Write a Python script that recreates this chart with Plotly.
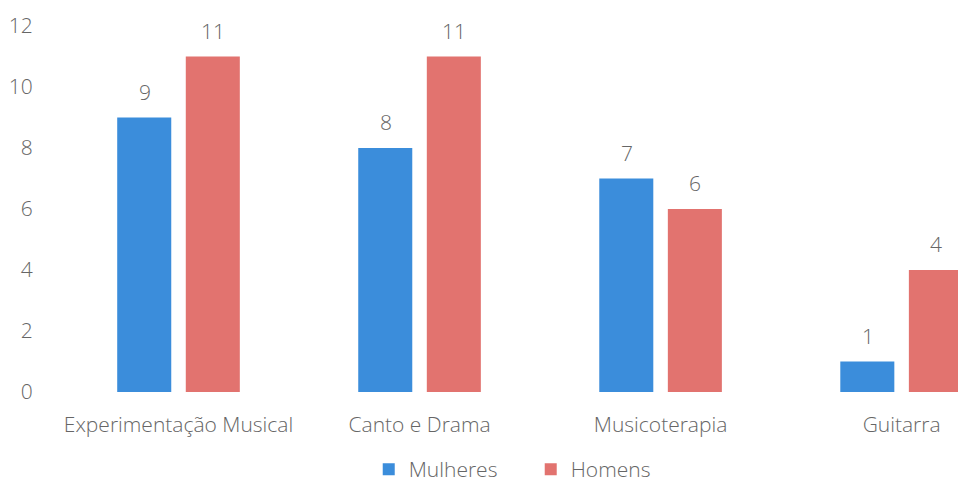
import plotly.graph_objects as go

categories = ["Experimentação Musical", "Canto e Drama", "Musicoterapia", "Guitarra"]
mulheres = [9, 8, 7, 1]
homens = [11, 11, 6, 4]
y_ticks = [0, 2, 4, 6, 8, 10, 12]

BLUE = "#3B8DDB"
RED = "#E2736F"
GREY = "#666666"
FONT = "Open Sans"
FS = 21

fig = go.Figure()
fig.add_trace(go.Bar(name="Mulheres", x=categories, y=mulheres, marker_color=BLUE,
                     marker_line_width=0))
fig.add_trace(go.Bar(name="Homens", x=categories, y=homens, marker_color=RED,
                     marker_line_width=0))

tf = dict(size=FS, color=GREY, family=FONT, weight=300)
annotations = []
for cat, v in zip(categories, mulheres):
    annotations.append(dict(x=cat, y=v, text=str(v), showarrow=False, xshift=-34, yshift=26,
                            yanchor="middle", font=tf))
for cat, v in zip(categories, homens):
    annotations.append(dict(x=cat, y=v, text=str(v), showarrow=False, xshift=34, yshift=26,
                            yanchor="middle", font=tf))

fig.update_layout(
    width=958, height=485,
    margin=dict(l=58, r=0, t=26, b=93),
    paper_bgcolor="white", plot_bgcolor="white",
    barmode="group", bargap=0.431, bargroupgap=0.212,
    font=tf,
    annotations=annotations,
    showlegend=True,
    legend=dict(orientation="h", xref="container", yref="container", x=0.554, y=0.032,
                xanchor="center", yanchor="middle", font=tf,
                itemwidth=30, entrywidth=117, tracegroupgap=0),
    xaxis=dict(range=[-0.5, 3.234], showgrid=False, showline=False, zeroline=False,
               ticks="outside", ticklen=14, tickcolor="rgba(0,0,0,0)", tickfont=tf),
    yaxis=dict(range=[0, 12], tickvals=y_ticks, showgrid=False, showline=False,
               zeroline=False, ticks="outside", ticklen=20, tickcolor="rgba(0,0,0,0)",
               tickfont=tf),
)

fig.write_html("out.html")
